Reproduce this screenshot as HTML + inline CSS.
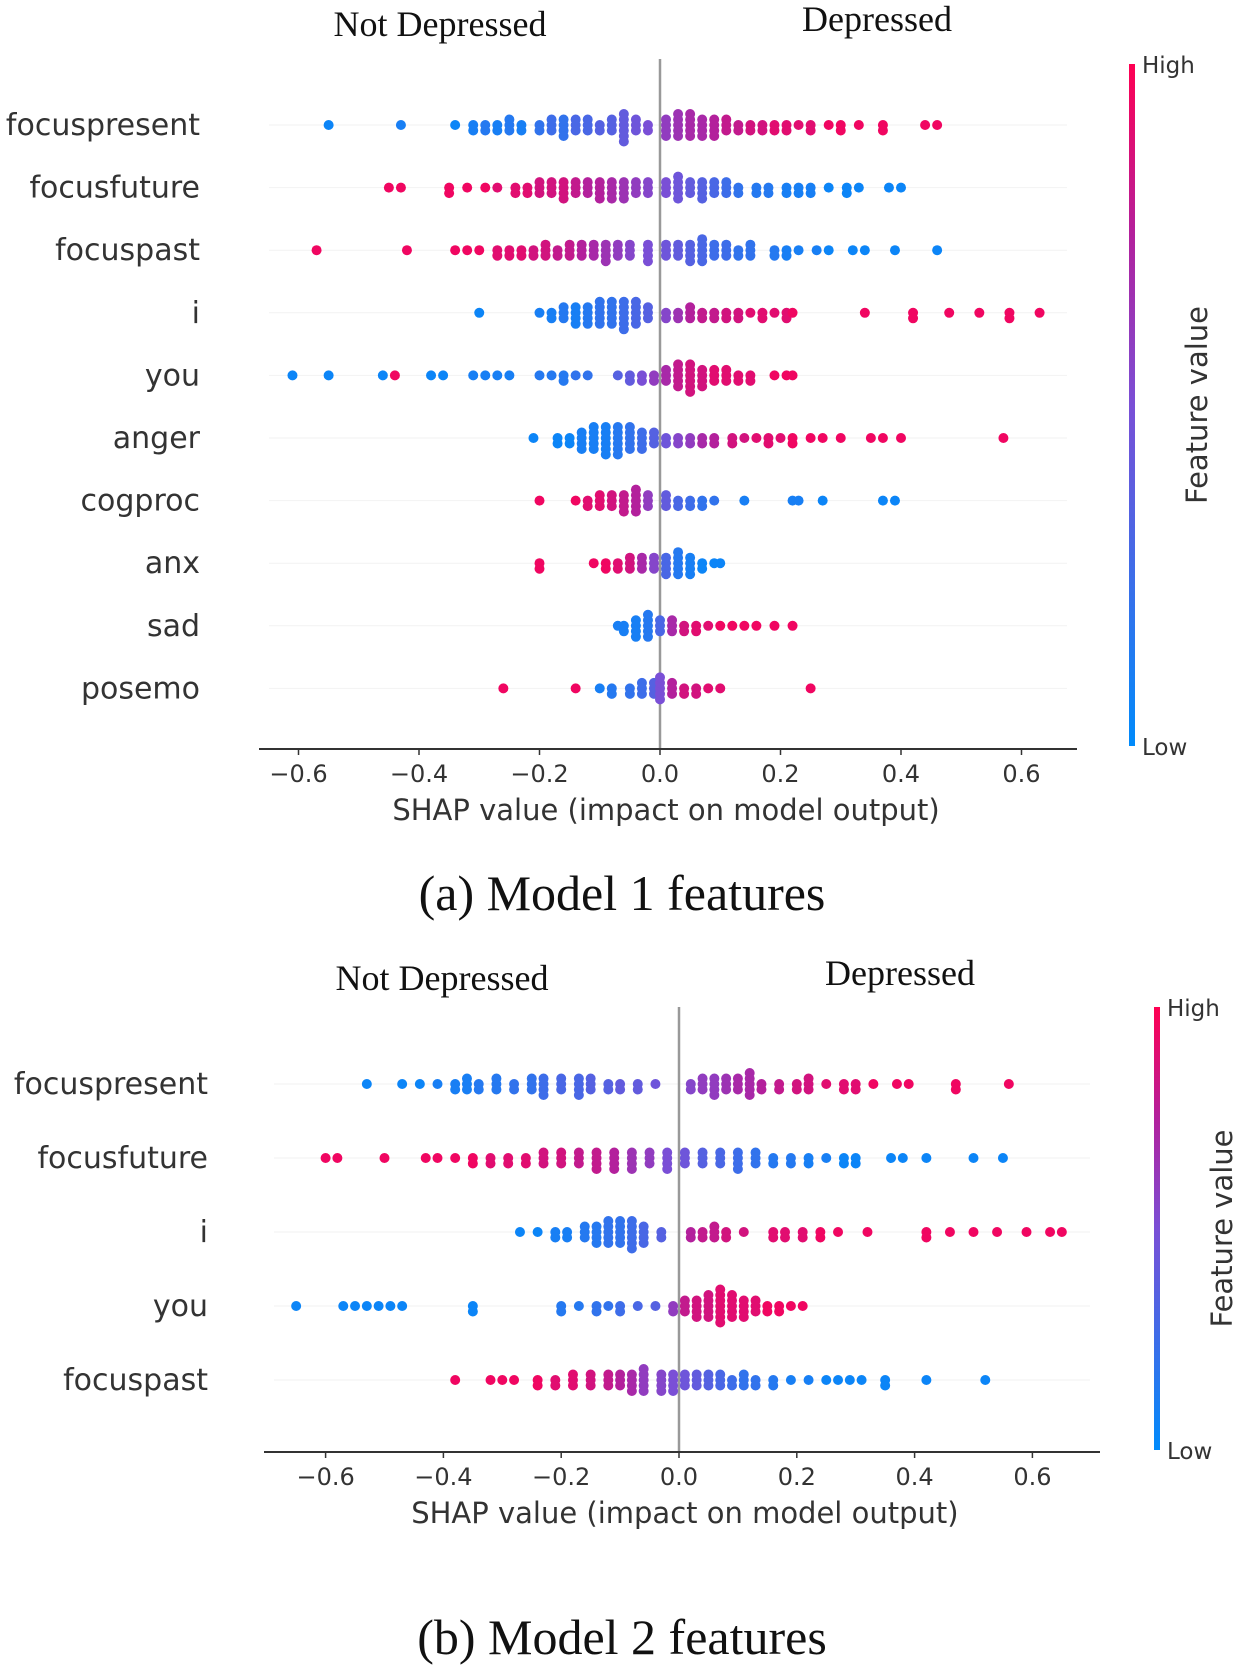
<!DOCTYPE html>
<html><head><meta charset="utf-8"><style>
html,body{margin:0;padding:0;background:#fff;}
svg{display:block;}
.lab{font-family:"DejaVu Sans","Liberation Sans",sans-serif;font-size:30px;fill:#333;}
.tick{font-family:"DejaVu Sans","Liberation Sans",sans-serif;font-size:24px;fill:#333;}
.ttl{font-family:"DejaVu Sans","Liberation Sans",sans-serif;font-size:29px;fill:#333;}
.ser{font-family:"Liberation Serif",serif;fill:#111;}
.cb{font-family:"DejaVu Sans","Liberation Sans",sans-serif;font-size:23px;fill:#333;}
</style></head><body>
<svg id="fig" width="1260" height="1674" viewBox="0 0 1260 1674" xmlns="http://www.w3.org/2000/svg">
<defs><linearGradient id="cbg" x1="0" y1="1" x2="0" y2="0">
<stop offset="0" stop-color="#008bfb"/><stop offset="0.5" stop-color="#7a4fd6"/><stop offset="0.75" stop-color="#b3209c"/><stop offset="1" stop-color="#ff0052"/></linearGradient></defs>
</svg>
<script>
// ---- Model 1 data: [shap value, feature value (0 low..1 high), count]
const featuresA = ["focuspresent","focusfuture","focuspast","i","you","anger","cogproc","anx","sad","posemo"];
const focuspresentA = [[-0.55,0.05,1],[-0.43,0.1,1],[-0.34,0.05,1],[-0.31,0.1,2],[-0.29,0.15,2],[-0.27,0.1,2],[-0.25,0.15,3],[-0.23,0.1,2],[-0.20,0.2,2],[-0.18,0.25,3],[-0.16,0.2,4],[-0.14,0.3,3],[-0.12,0.3,3],[-0.10,0.35,2],[-0.08,0.35,3],[-0.06,0.4,6],[-0.04,0.45,3],[-0.02,0.5,2],[0.01,0.6,4],[0.03,0.65,5],[0.05,0.7,5],[0.07,0.7,4],[0.09,0.75,4],[0.11,0.8,3],[0.13,0.8,2],[0.15,0.85,2],[0.17,0.85,2],[0.19,0.9,2],[0.21,0.9,2],[0.23,0.9,1],[0.25,0.9,2],[0.28,0.95,1],[0.30,0.95,2],[0.33,0.95,1],[0.37,0.95,2],[0.44,0.95,1],[0.46,0.95,1]];
const focusfutureA = [[-0.45,0.95,1],[-0.43,0.95,1],[-0.35,0.95,2],[-0.32,0.95,1],[-0.29,0.95,1],[-0.27,0.9,1],[-0.24,0.9,2],[-0.22,0.9,2],[-0.20,0.85,3],[-0.18,0.85,3],[-0.16,0.85,4],[-0.14,0.8,3],[-0.12,0.75,3],[-0.10,0.75,4],[-0.08,0.7,4],[-0.06,0.65,4],[-0.04,0.6,3],[-0.02,0.55,3],[0.01,0.5,3],[0.03,0.45,5],[0.05,0.4,3],[0.07,0.35,4],[0.09,0.3,3],[0.11,0.25,3],[0.13,0.2,2],[0.16,0.15,2],[0.18,0.15,2],[0.21,0.1,2],[0.23,0.1,2],[0.25,0.1,2],[0.28,0.05,1],[0.31,0.05,2],[0.33,0.05,1],[0.38,0.05,1],[0.40,0.05,1]];
const focuspastA = [[-0.57,0.95,1],[-0.42,0.95,1],[-0.34,0.95,1],[-0.32,0.95,1],[-0.30,0.95,1],[-0.27,0.9,2],[-0.25,0.9,2],[-0.23,0.9,2],[-0.21,0.85,2],[-0.19,0.85,3],[-0.17,0.8,2],[-0.15,0.8,3],[-0.13,0.75,3],[-0.11,0.7,3],[-0.09,0.65,4],[-0.07,0.6,3],[-0.05,0.55,3],[-0.02,0.5,4],[0.01,0.45,3],[0.03,0.4,3],[0.05,0.35,4],[0.07,0.3,5],[0.09,0.25,3],[0.11,0.25,3],[0.13,0.2,2],[0.15,0.2,3],[0.19,0.15,2],[0.21,0.1,2],[0.23,0.1,1],[0.26,0.1,1],[0.28,0.05,1],[0.32,0.05,1],[0.34,0.05,1],[0.39,0.05,1],[0.46,0.05,1]];
const iA = [[-0.30,0.05,1],[-0.20,0.1,1],[-0.18,0.1,2],[-0.16,0.15,3],[-0.14,0.1,4],[-0.12,0.15,4],[-0.10,0.2,5],[-0.08,0.2,5],[-0.06,0.25,6],[-0.04,0.3,5],[-0.02,0.35,3],[0.01,0.55,2],[0.03,0.65,2],[0.05,0.75,3],[0.07,0.8,2],[0.09,0.8,2],[0.11,0.85,2],[0.13,0.85,2],[0.15,0.9,1],[0.17,0.9,2],[0.19,0.9,1],[0.21,0.9,2],[0.22,0.95,1],[0.34,0.95,1],[0.42,0.95,2],[0.48,0.95,1],[0.53,0.95,1],[0.58,0.95,2],[0.63,0.95,1]];
const youA = [[-0.61,0.05,1],[-0.55,0.05,1],[-0.46,0.05,1],[-0.44,0.95,1],[-0.38,0.05,1],[-0.36,0.05,1],[-0.31,0.1,1],[-0.29,0.1,1],[-0.27,0.1,1],[-0.25,0.1,1],[-0.20,0.15,1],[-0.18,0.15,1],[-0.16,0.15,2],[-0.14,0.2,1],[-0.12,0.2,1],[-0.07,0.35,1],[-0.05,0.4,2],[-0.03,0.5,2],[-0.01,0.6,2],[0.01,0.7,3],[0.03,0.8,5],[0.05,0.85,6],[0.07,0.85,4],[0.09,0.9,3],[0.11,0.9,3],[0.13,0.9,2],[0.15,0.9,2],[0.19,0.95,1],[0.21,0.95,1],[0.22,0.95,1]];
const angerA = [[-0.21,0.05,1],[-0.17,0.05,2],[-0.15,0.05,2],[-0.13,0.1,4],[-0.11,0.1,5],[-0.09,0.1,6],[-0.07,0.15,6],[-0.05,0.2,5],[-0.03,0.25,4],[-0.01,0.35,3],[0.01,0.45,2],[0.03,0.55,2],[0.05,0.6,2],[0.07,0.7,2],[0.09,0.75,2],[0.12,0.85,2],[0.14,0.85,1],[0.16,0.9,1],[0.18,0.9,2],[0.20,0.9,1],[0.22,0.95,2],[0.25,0.95,1],[0.27,0.95,1],[0.30,0.95,1],[0.35,0.95,1],[0.37,0.95,1],[0.40,0.95,1],[0.57,0.95,1]];
const cogprocA = [[-0.20,0.95,1],[-0.14,0.95,1],[-0.12,0.9,2],[-0.10,0.9,3],[-0.08,0.85,3],[-0.06,0.8,4],[-0.04,0.75,5],[-0.02,0.6,3],[0.01,0.4,3],[0.03,0.3,2],[0.05,0.25,2],[0.07,0.2,2],[0.09,0.2,1],[0.14,0.1,1],[0.22,0.1,1],[0.23,0.1,1],[0.27,0.05,1],[0.37,0.05,1],[0.39,0.05,1]];
const anxA = [[-0.20,0.95,2],[-0.11,0.95,1],[-0.09,0.95,2],[-0.07,0.9,2],[-0.05,0.85,3],[-0.03,0.7,3],[-0.01,0.55,3],[0.01,0.3,4],[0.03,0.15,5],[0.05,0.1,4],[0.07,0.05,2],[0.09,0.05,1],[0.10,0.05,1]];
const sadA = [[-0.07,0.1,1],[-0.06,0.1,2],[-0.04,0.1,4],[-0.02,0.15,5],[0.0,0.3,3],[0.02,0.7,3],[0.04,0.85,2],[0.06,0.9,2],[0.08,0.9,1],[0.10,0.95,1],[0.12,0.95,1],[0.14,0.95,1],[0.16,0.95,1],[0.19,0.95,1],[0.22,0.95,1]];
const posemoA = [[-0.26,0.95,1],[-0.14,0.95,1],[-0.10,0.1,1],[-0.08,0.15,2],[-0.05,0.2,2],[-0.03,0.25,3],[-0.01,0.35,3],[0.0,0.5,5],[0.02,0.75,3],[0.04,0.85,2],[0.06,0.85,2],[0.08,0.9,1],[0.10,0.9,1],[0.25,0.95,1]];
const ticksA = ["−0.6","−0.4","−0.2","0.0","0.2","0.4","0.6"];
const tickValsA = [-0.6,-0.4,-0.2,0,0.2,0.4,0.6];
// ---- Model 2 data
const featuresB = ["focuspresent","focusfuture","i","you","focuspast"];
const focuspresentB = [[-0.53,0.05,1],[-0.47,0.05,1],[-0.44,0.05,1],[-0.41,0.1,1],[-0.38,0.1,2],[-0.36,0.1,3],[-0.34,0.15,2],[-0.31,0.15,3],[-0.28,0.2,2],[-0.25,0.2,3],[-0.23,0.25,4],[-0.20,0.3,3],[-0.17,0.3,4],[-0.15,0.35,3],[-0.12,0.35,2],[-0.10,0.4,2],[-0.07,0.4,2],[-0.04,0.45,1],[0.02,0.55,2],[0.04,0.6,3],[0.06,0.6,4],[0.08,0.65,3],[0.10,0.7,3],[0.12,0.7,5],[0.14,0.75,2],[0.17,0.8,2],[0.20,0.85,2],[0.22,0.85,3],[0.25,0.9,1],[0.28,0.9,2],[0.30,0.9,2],[0.33,0.95,1],[0.37,0.95,1],[0.39,0.95,1],[0.47,0.95,2],[0.56,0.95,1]];
const focusfutureB = [[-0.60,0.95,1],[-0.58,0.95,1],[-0.50,0.95,1],[-0.43,0.95,1],[-0.41,0.95,1],[-0.38,0.95,1],[-0.35,0.95,2],[-0.32,0.9,2],[-0.29,0.9,2],[-0.26,0.9,2],[-0.23,0.85,3],[-0.20,0.85,3],[-0.17,0.8,3],[-0.14,0.8,4],[-0.11,0.75,4],[-0.08,0.65,4],[-0.05,0.6,3],[-0.02,0.5,4],[0.01,0.45,3],[0.04,0.35,3],[0.07,0.3,3],[0.10,0.25,4],[0.13,0.2,3],[0.16,0.15,2],[0.19,0.15,2],[0.22,0.1,2],[0.25,0.1,1],[0.28,0.05,2],[0.30,0.05,2],[0.36,0.05,1],[0.38,0.05,1],[0.42,0.05,1],[0.50,0.05,1],[0.55,0.05,1]];
const iB = [[-0.27,0.05,1],[-0.24,0.05,1],[-0.21,0.1,2],[-0.19,0.1,2],[-0.16,0.15,3],[-0.14,0.15,4],[-0.12,0.2,5],[-0.10,0.2,5],[-0.08,0.25,6],[-0.06,0.3,4],[-0.03,0.35,2],[0.02,0.75,2],[0.04,0.8,2],[0.06,0.8,3],[0.08,0.85,2],[0.11,0.85,1],[0.16,0.9,2],[0.18,0.9,2],[0.21,0.9,2],[0.24,0.95,2],[0.27,0.95,1],[0.32,0.95,1],[0.42,0.95,2],[0.46,0.95,1],[0.50,0.95,1],[0.54,0.95,1],[0.59,0.95,1],[0.63,0.95,1],[0.65,0.95,1]];
const youB = [[-0.65,0.05,1],[-0.57,0.05,1],[-0.55,0.05,1],[-0.53,0.05,1],[-0.51,0.05,1],[-0.49,0.05,1],[-0.47,0.05,1],[-0.35,0.05,2],[-0.20,0.15,2],[-0.17,0.15,1],[-0.14,0.2,2],[-0.12,0.2,1],[-0.10,0.25,2],[-0.07,0.3,1],[-0.04,0.35,1],[-0.01,0.6,2],[0.01,0.8,3],[0.03,0.85,4],[0.05,0.85,5],[0.07,0.9,7],[0.09,0.9,5],[0.11,0.9,4],[0.13,0.9,3],[0.15,0.95,2],[0.17,0.95,2],[0.19,0.95,1],[0.21,0.95,1]];
const focuspastB = [[-0.38,0.95,1],[-0.32,0.95,1],[-0.30,0.95,1],[-0.28,0.95,1],[-0.24,0.95,2],[-0.21,0.9,2],[-0.18,0.9,3],[-0.15,0.85,3],[-0.12,0.8,3],[-0.10,0.75,3],[-0.08,0.7,4],[-0.06,0.6,5],[-0.03,0.55,4],[-0.01,0.5,4],[0.01,0.45,3],[0.03,0.4,3],[0.05,0.35,3],[0.07,0.3,3],[0.09,0.25,2],[0.11,0.2,3],[0.13,0.2,2],[0.16,0.15,2],[0.19,0.1,1],[0.22,0.1,1],[0.25,0.05,1],[0.27,0.05,1],[0.29,0.05,1],[0.31,0.05,1],[0.35,0.05,2],[0.42,0.05,1],[0.52,0.05,1]];
const ticksB = ["−0.6","−0.4","−0.2","0.0","0.2","0.4","0.6"];
const tickValsB = [-0.6,-0.4,-0.2,0,0.2,0.4,0.6];

const NS="http://www.w3.org/2000/svg";
const svg=document.getElementById('fig');
function mk(tag,attrs,parent){const e=document.createElementNS(NS,tag);for(const k in attrs)e.setAttribute(k,attrs[k]);(parent||svg).appendChild(e);return e;}
function lerp(a,b,t){return Math.round(a+(b-a)*t);}
function colorOf(v){
  const stops=[[0,[0,139,251]],[0.5,[122,79,214]],[0.75,[179,32,156]],[1,[255,0,82]]];
  for(let i=1;i<stops.length;i++){if(v<=stops[i][0]){const t=(v-stops[i-1][0])/(stops[i][0]-stops[i-1][0]);const a=stops[i-1][1],b=stops[i][1];return `rgb(${lerp(a[0],b[0],t)},${lerp(a[1],b[1],t)},${lerp(a[2],b[2],t)})`;}}
  return 'rgb(255,0,82)';
}
function drawChart(cfg){
  const g=mk('g',{});
  
  
  const xs=v=>cfg.x0+v/0.2*cfg.step;
  const ys=i=>cfg.row0+i*cfg.rowH;
  cfg.features.forEach((f,i)=>{
    const gl=mk('line',{x1:cfg.axL+10,x2:cfg.axR-10,y1:ys(i),y2:ys(i),stroke:'#f2f2f2','stroke-width':1},g);
    
    
  });
  const zl=mk('line',{x1:xs(0),x2:xs(0),y1:cfg.zTop,y2:cfg.axY,stroke:'#999','stroke-width':2.5},g);
  
  
  cfg.features.forEach((f,i)=>{
    const data=cfg.data[i];
    const bins={};
    const lab=mk('text',{x:cfg.labR,y:ys(i)+10,'text-anchor':'end',class:'lab'},g);
    lab.textContent=f;
    
    
    data.forEach(p=>{
      const px=xs(p[0]);const b=Math.round(px/8);
      for(let c=0;c<p[2];c++){
        const k=bins[b]||0;bins[b]=k+1;
        const off=(k===0?0:(k%2?1:-1)*Math.ceil(k/2))*5.5;
        const d=mk('circle',{cx:px,cy:ys(i)+off,r:5,fill:colorOf(p[1])},g);
        
        
      }
    });
  });
  const ax=mk('line',{x1:cfg.axL,x2:cfg.axR,y1:cfg.axY,y2:cfg.axY,stroke:'#333','stroke-width':2},g);
  
  
  cfg.tickVals.forEach((v,j)=>{
    const tk=mk('line',{x1:xs(v),x2:xs(v),y1:cfg.axY,y2:cfg.axY+6,stroke:'#333','stroke-width':1.5},g);
    
    
    const tl=mk('text',{x:xs(v),y:cfg.axY+33,'text-anchor':'middle',class:'tick'},g);
    tl.textContent=cfg.ticks[j];
    
    
  });
  const tt=mk('text',{x:xs(0.01),y:cfg.axY+71,'text-anchor':'middle',class:'ttl'},g);
  tt.textContent='SHAP value (impact on model output)';
  
  
  const cb=mk('rect',{x:cfg.cbX,y:cfg.cbTop,width:6,height:cfg.cbBot-cfg.cbTop,fill:'url(#cbg)'},g);
  
  
  const hi=mk('text',{x:cfg.cbX+13,y:cfg.cbTop+9,class:'cb'},g);hi.textContent='High';
  
  
  const lo=mk('text',{x:cfg.cbX+13,y:cfg.cbBot+9,class:'cb'},g);lo.textContent='Low';
  
  
  const fx=cfg.cbX+78, fy=(cfg.cbTop+cfg.cbBot)/2;
  const fv=mk('text',{x:fx,y:fy,'text-anchor':'middle',class:'ttl',transform:`rotate(-90 ${fx} ${fy})`},g);
  fv.textContent='Feature value';
  
  
  const nd=mk('text',{x:cfg.ndX,y:cfg.hdY,'text-anchor':'middle',class:'ser','font-size':36},g);nd.textContent='Not Depressed';
  
  
  const dp=mk('text',{x:cfg.dpX,y:cfg.hdY-5,'text-anchor':'middle',class:'ser','font-size':36},g);dp.textContent='Depressed';
  
  
  const cap=mk('text',{x:622,y:cfg.capY,'text-anchor':'middle',class:'ser','font-size':50},g);cap.textContent=cfg.caption;
  
  
}
drawChart({name:'model-1-chart',features:featuresA,data:[focuspresentA,focusfutureA,focuspastA,iA,youA,angerA,cogprocA,anxA,sadA,posemoA],
  x0:660,step:120.5,row0:125,rowH:62.6,zTop:59,axY:749,axL:259,axR:1077,labR:200,ticks:ticksA,tickVals:tickValsA,
  cbX:1129,cbTop:64,cbBot:746,ndX:440,dpX:877,hdY:36,capY:910,caption:'(a) Model 1 features'});
drawChart({name:'model-2-chart',features:featuresB,data:[focuspresentB,focusfutureB,iB,youB,focuspastB],
  x0:679,step:117.8,row0:1084,rowH:74,zTop:1007,axY:1452,axL:264,axR:1100,labR:208,ticks:ticksB,tickVals:tickValsB,
  cbX:1154,cbTop:1007,cbBot:1450,ndX:442,dpX:900,hdY:990,capY:1654,caption:'(b) Model 2 features'});
</script>
</body></html>
